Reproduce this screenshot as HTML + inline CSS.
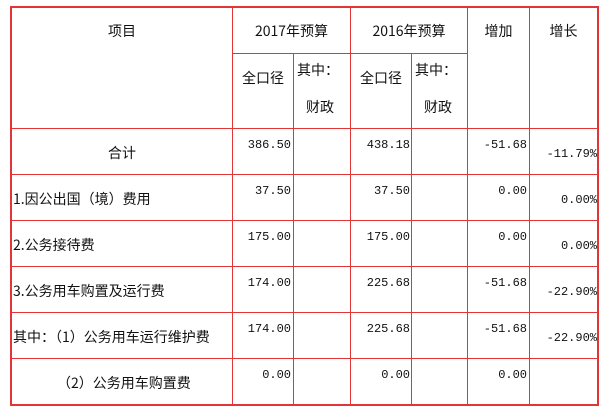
<!DOCTYPE html>
<html><head><meta charset="utf-8"><style>
html,body{margin:0;padding:0;background:#fff;width:608px;height:419px;overflow:hidden}
body{position:relative;font-family:"Noto Sans CJK SC","Liberation Sans",sans-serif;font-size:14px;color:#111}
.t{position:absolute;white-space:nowrap;line-height:16px}
.n{position:absolute;white-space:nowrap;font-family:"Liberation Mono",monospace;font-size:12px;line-height:16px;text-align:right}
.c{text-align:center}
svg{position:absolute;left:0;top:0}
</style></head><body>
<svg width="608" height="419">
<g stroke="#e23636" stroke-width="1" fill="none">
<line x1="232.5" y1="7" x2="232.5" y2="405"/>
<line x1="293.5" y1="53" x2="293.5" y2="405"/>
<line x1="350.5" y1="7" x2="350.5" y2="405"/>
<line x1="411.5" y1="53" x2="411.5" y2="405"/>
<line x1="467.5" y1="7" x2="467.5" y2="405"/>
<line x1="529.5" y1="7" x2="529.5" y2="405"/>
<line x1="232" y1="53.5" x2="467" y2="53.5"/>
<line x1="11" y1="128.5" x2="597" y2="128.5"/>
<line x1="11" y1="174.5" x2="597" y2="174.5"/>
<line x1="11" y1="220.5" x2="597" y2="220.5"/>
<line x1="11" y1="266.5" x2="597" y2="266.5"/>
<line x1="11" y1="312.5" x2="597" y2="312.5"/>
<line x1="11" y1="358.5" x2="597" y2="358.5"/>
</g>
<rect x="11" y="7" width="587" height="398" stroke="#e23636" stroke-width="2" fill="none"/>
</svg>
<div class="t c" style="left:12px;width:220px;top:23px">项目</div>
<div class="t c" style="left:233px;width:117px;top:23px">2017年预算</div>
<div class="t c" style="left:351px;width:116px;top:23px">2016年预算</div>
<div class="t c" style="left:468px;width:61px;top:23px">增加</div>
<div class="t c" style="left:530px;width:67px;top:23px">增长</div>
<div class="t c" style="left:233px;width:60px;top:70px">全口径</div>
<div class="t" style="left:297px;top:62px">其中：</div>
<div class="t" style="left:306px;top:99px">财政</div>
<div class="t c" style="left:351px;width:60px;top:70px">全口径</div>
<div class="t" style="left:415px;top:62px">其中：</div>
<div class="t" style="left:424px;top:99px">财政</div>

<div class="t c" style="left:12px;width:220px;top:145px">合计</div>
<div class="t" style="left:13px;top:191px">1.因公出国（境）费用</div>
<div class="t" style="left:13px;top:237px">2.公务接待费</div>
<div class="t" style="left:13px;top:283px">3.公务用车购置及运行费</div>
<div class="t" style="left:13px;top:329px">其中：（1）公务用车运行维护费</div>
<div class="t" style="left:57px;top:375px">（2）公务用车购置费</div>

<div class="n" style="right:317px;top:137px">386.50</div>
<div class="n" style="right:198px;top:137px">438.18</div>
<div class="n" style="right:81px;top:137px">-51.68</div>
<div class="n" style="right:11px;top:146px">-11.79%</div>

<div class="n" style="right:317px;top:183px">37.50</div>
<div class="n" style="right:198px;top:183px">37.50</div>
<div class="n" style="right:81px;top:183px">0.00</div>
<div class="n" style="right:11px;top:192px">0.00%</div>

<div class="n" style="right:317px;top:229px">175.00</div>
<div class="n" style="right:198px;top:229px">175.00</div>
<div class="n" style="right:81px;top:229px">0.00</div>
<div class="n" style="right:11px;top:238px">0.00%</div>

<div class="n" style="right:317px;top:275px">174.00</div>
<div class="n" style="right:198px;top:275px">225.68</div>
<div class="n" style="right:81px;top:275px">-51.68</div>
<div class="n" style="right:11px;top:284px">-22.90%</div>

<div class="n" style="right:317px;top:321px">174.00</div>
<div class="n" style="right:198px;top:321px">225.68</div>
<div class="n" style="right:81px;top:321px">-51.68</div>
<div class="n" style="right:11px;top:330px">-22.90%</div>

<div class="n" style="right:317px;top:367px">0.00</div>
<div class="n" style="right:198px;top:367px">0.00</div>
<div class="n" style="right:81px;top:367px">0.00</div>
</body></html>
